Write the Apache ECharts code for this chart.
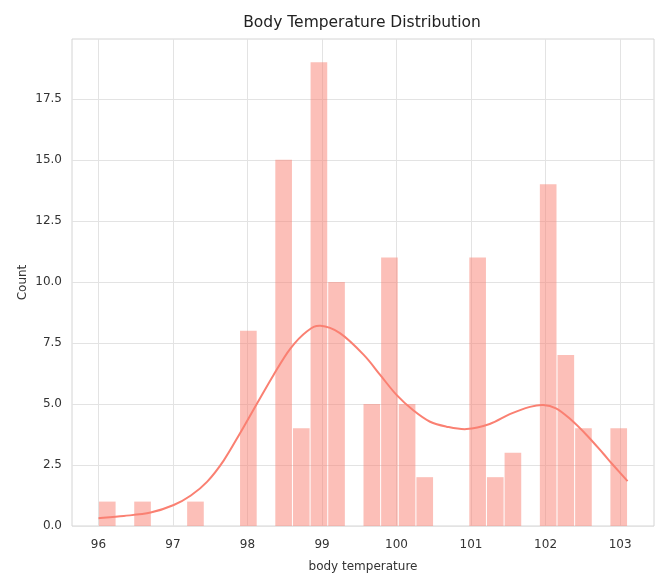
<!DOCTYPE html>
<html>
<head>
<meta charset="utf-8">
<script src="https://cdn.jsdelivr.net/npm/echarts@6/dist/echarts.min.js"></script>
<style>
html,body{margin:0;padding:0;background:#fff;}
#c{width:661px;height:577px;}
</style>
</head>
<body>
<div id="c"></div>
<script>
// ---- data ----
const titleText = 'Body Temperature Distribution';
const xLabel = 'body temperature';
const yLabel = 'Count';
const binRange = [96.0, 103.1];
const binCounts = [1, 0, 1, 0, 0, 1, 0, 0, 8, 0, 15, 4, 19, 10, 0, 5, 11, 5, 2, 0, 0, 11, 2, 3, 0, 14, 7, 4, 0, 4];
const kdeX = [96.00, 96.34, 96.70, 97.01, 97.24, 97.46, 97.68, 97.90, 98.13, 98.35, 98.57, 98.80, 98.98, 99.24, 99.56, 99.78, 100.00, 100.22, 100.45, 100.67, 100.94, 101.25, 101.52, 101.79, 101.97, 102.14, 102.32, 102.55, 102.77, 102.90, 103.10];
const kdeY = [0.32, 0.41, 0.55, 0.86, 1.25, 1.82, 2.68, 3.80, 5.03, 6.19, 7.25, 7.98, 8.20, 7.90, 7.01, 6.19, 5.37, 4.75, 4.27, 4.07, 3.97, 4.18, 4.58, 4.88, 4.96, 4.82, 4.41, 3.73, 2.98, 2.52, 1.84];
const xTicks = [96, 97, 98, 99, 100, 101, 102, 103];
const yTicks = [0, 2.5, 5, 7.5, 10, 12.5, 15, 17.5];

// ---- build ----
const nBins = binCounts.length;
const bw = (binRange[1] - binRange[0]) / nBins;
const barData = binCounts.map((c, i) => [binRange[0] + i * bw, binRange[0] + (i + 1) * bw, c]);
const lineData = kdeX.map((x, i) => [x, kdeY[i]]);
const span = binRange[1] - binRange[0];
const xMin = binRange[0] - 0.05 * span;
const xMax = binRange[1] + 0.05 * span;
const yMax = Math.max(...binCounts) * 1.05;

const font = 'DejaVu Sans';
const txt = '#333333';
const gridCol = '#e3e3e3';

function catmullPath(pts) {
  let d = 'M' + pts[0][0] + ' ' + pts[0][1];
  for (let i = 0; i < pts.length - 1; i++) {
    const p0 = pts[Math.max(i - 1, 0)], p1 = pts[i], p2 = pts[i + 1], p3 = pts[Math.min(i + 2, pts.length - 1)];
    const c1 = [p1[0] + (p2[0] - p0[0]) / 6, p1[1] + (p2[1] - p0[1]) / 6];
    const c2 = [p2[0] - (p3[0] - p1[0]) / 6, p2[1] - (p3[1] - p1[1]) / 6];
    d += ' C' + c1[0] + ' ' + c1[1] + ' ' + c2[0] + ' ' + c2[1] + ' ' + p2[0] + ' ' + p2[1];
  }
  return d;
}

const chart = echarts.init(document.getElementById('c'), null, {renderer: 'canvas'});
chart.setOption({
  animation: false,
  backgroundColor: '#fff',
  title: {
    text: titleText, left: 357, top: 10, textAlign: 'center',
    textStyle: {fontFamily: font, fontSize: 15.5, fontWeight: 'normal', color: '#222222'}
  },
  grid: {left: 72, right: 7, top: 39, bottom: 51, show: true, borderColor: '#d4d4d4', borderWidth: 1, backgroundColor: 'transparent', containLabel: false, outerBoundsMode: 'none'},
  xAxis: {
    type: 'value', min: xMin, max: xMax,
    name: xLabel, nameLocation: 'middle', nameGap: 35, nameMoveOverlap: false,
    nameTextStyle: {fontFamily: font, fontSize: 12, color: txt},
    axisLine: {show: false},
    axisTick: {show: false, customValues: xTicks},
    axisLabel: {customValues: xTicks, fontFamily: font, fontSize: 12, color: txt, margin: 13, formatter: v => String(v)},
    splitLine: {show: true, lineStyle: {color: gridCol, width: 1}}
  },
  yAxis: {
    type: 'value', min: 0, max: yMax,
    name: yLabel, nameLocation: 'middle', nameGap: 43, nameRotate: 90, nameMoveOverlap: false,
    nameTextStyle: {fontFamily: font, fontSize: 12, color: txt},
    axisLine: {show: false},
    axisTick: {show: false, customValues: yTicks},
    axisLabel: {customValues: yTicks, fontFamily: font, fontSize: 12, color: txt, margin: 10, formatter: v => v.toFixed(1)},
    splitLine: {show: true, lineStyle: {color: gridCol, width: 1}}
  },
  series: [
    {
      type: 'custom',
      data: barData,
      encode: {x: [0, 1], y: 2},
      renderItem: function (params, api) {
        const c = api.value(2);
        if (!c) return null;
        const p0 = api.coord([api.value(0), c]);
        const p1 = api.coord([api.value(1), 0]);
        return {
          type: 'rect',
          shape: {x: p0[0] + 0.5, y: p0[1], width: p1[0] - p0[0] - 1, height: p1[1] - p0[1]},
          style: {fill: 'rgba(250,128,114,0.5)', stroke: null}
        };
      },
      z: 2
    },
    {
      type: 'custom',
      data: lineData,
      encode: {x: 0, y: 1},
      renderItem: function (params, api) {
        if (params.dataIndex !== 0) return null;
        const pts = lineData.map(p => api.coord(p));
        return {
          type: 'path',
          shape: {pathData: catmullPath(pts)},
          style: {fill: null, stroke: '#fa8072', lineWidth: 2}
        };
      },
      z: 3
    }
  ]
});
</script>
</body>
</html>
